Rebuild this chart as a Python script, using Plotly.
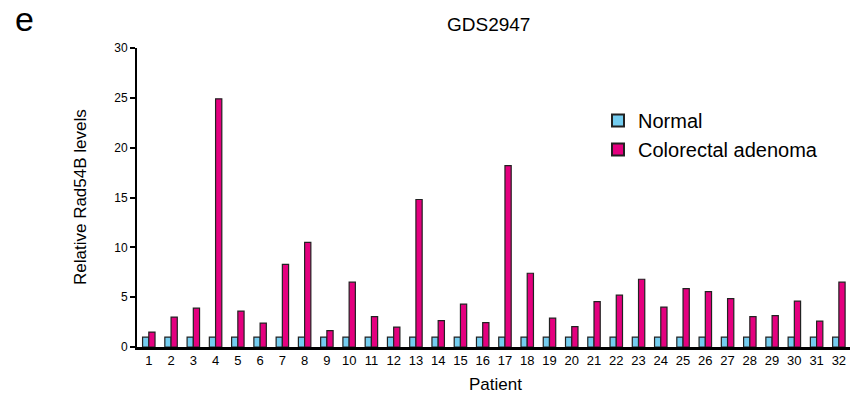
import plotly.graph_objects as go

patients = list(range(1, 33))
tick_labels = [str(p) for p in patients]
normal = [1.0] * 32
adenoma = [1.5, 3.0, 3.9, 24.9, 3.6, 2.4, 8.3, 10.5, 1.65, 6.5,
           3.05, 2.0, 14.8, 2.65, 4.3, 2.45, 18.2, 7.4, 2.9, 2.05,
           4.55, 5.2, 6.8, 4.0, 5.85, 5.55, 4.85, 3.05, 3.15, 4.6,
           2.6, 6.5]

FONT = "Liberation Sans, Arial, Helvetica, sans-serif"
W, H = 863, 394
L, R, T, B = 137, 13, 48, 47
pw = W - L - R
ph = H - T - B


def px(x, y):
    return (x - L) / pw, (H - B - y) / ph


fig = go.Figure()
fig.add_trace(go.Bar(x=patients, y=normal, name="Normal",
                     marker=dict(color="#74cdf0", line=dict(color="#222222", width=1.2))))
fig.add_trace(go.Bar(x=patients, y=adenoma, name="Colorectal adenoma",
                     marker=dict(color="#e4007f", line=dict(color="#222222", width=1.2))))

lx, ly = px(598, 101)
fig.update_layout(
    width=W, height=H,
    margin=dict(l=L, r=R, t=T, b=B, autoexpand=False),
    paper_bgcolor="white", plot_bgcolor="white",
    barmode="group", bargap=0.44, bargroupgap=0,
    font=dict(family=FONT, color="black"),
    showlegend=True,
    legend=dict(x=lx, y=ly, xanchor="left", yanchor="top",
                font=dict(size=20, family=FONT), bgcolor="rgba(0,0,0,0)",
                itemsizing="constant", tracegroupgap=4),
)

tx, ty = px(488, 24)
ex, ey = px(24, 19)
yx, yy = px(80, 197)
ptx, pty = px(496, 384)
fig.add_annotation(text="GDS2947", x=tx, y=ty, xref="paper", yref="paper", showarrow=False,
                   xanchor="center", yanchor="middle", font=dict(size=19, family=FONT))
fig.add_annotation(text="e", x=ex, y=ey, xref="paper", yref="paper", showarrow=False,
                   xanchor="center", yanchor="middle", font=dict(size=34, family=FONT))
fig.add_annotation(text="Relative Rad54B levels", x=yx, y=yy, xref="paper", yref="paper",
                   showarrow=False, textangle=-90, xanchor="center", yanchor="middle",
                   font=dict(size=17, family=FONT))
fig.add_annotation(text="Patient", x=ptx, y=pty, xref="paper", yref="paper", showarrow=False,
                   xanchor="center", yanchor="middle", font=dict(size=17, family=FONT))

fig.update_xaxes(range=[0.47, 32.5], tickmode="array", tickvals=patients, ticktext=tick_labels,
                 showline=True, linecolor="black", linewidth=2.5, ticks="", automargin=False,
                 tickfont=dict(size=13, family=FONT), showgrid=False, zeroline=False)
fig.update_yaxes(range=[0, 30], tickvals=[0, 5, 10, 15, 20, 25, 30], automargin=False,
                 showline=True, linecolor="black", linewidth=2, ticks="outside",
                 ticklen=5, tickwidth=1.5, tickcolor="black",
                 tickfont=dict(size=12, family=FONT), showgrid=False, zeroline=False)

fig.write_html("out.html", config={"displayModeBar": False},
               post_script="document.body.style.margin='0px';document.body.style.overflow='hidden';")
